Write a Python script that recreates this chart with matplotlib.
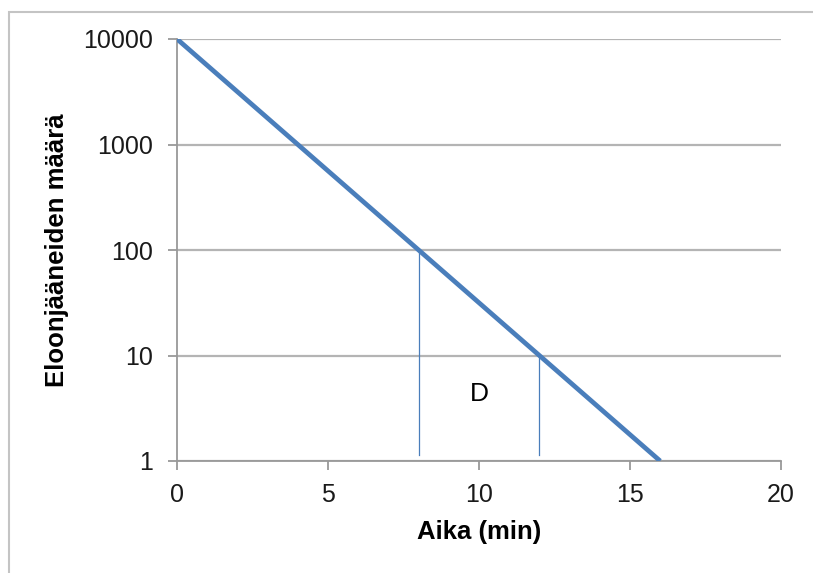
import matplotlib
matplotlib.use("Agg")
import matplotlib.pyplot as plt
from matplotlib.patches import Rectangle

plt.rcParams['font.family'] = ['Liberation Sans', 'DejaVu Sans']

# data
time_min = [0, 16]
survivors = [10000, 1]
d_lines_x = [8, 12]
d_lines_top = [100, 10]
d_lines_bottom = 1.15
d_label = "D"
d_label_pos = (10, 4.3)
x_ticks = [0, 5, 10, 15, 20]
y_ticks = [1, 10, 100, 1000, 10000]
y_tick_labels = ["1", "10", "100", "1000", "10000"]

fig = plt.figure(figsize=(8.13, 5.73), dpi=100)
fig.patches.append(Rectangle((9/813, -0.1), 1.2, 1 - 12/573 + 0.1,
                             transform=fig.transFigure, fill=False,
                             edgecolor='#c4c4c4', linewidth=1.5))
ax = fig.add_axes([177/813, 1 - 461/573, (781-177)/813, (461-39)/573])

blue = '#4a7ebb'
ax.plot(time_min, survivors, color=blue, linewidth=3.4, solid_capstyle='butt', zorder=3)
for x, top in zip(d_lines_x, d_lines_top):
    ax.plot([x, x], [d_lines_bottom, top], color=blue, linewidth=0.9, zorder=2)
ax.text(d_label_pos[0], d_label_pos[1], d_label, ha='center', va='center', fontsize=19)

ax.set_yscale('log')
ax.set_xlim(0, 20)
ax.set_ylim(1, 10000)
ax.set_xticks(x_ticks)
ax.set_xticklabels([str(v) for v in x_ticks])
ax.set_yticks(y_ticks)
ax.set_yticklabels(y_tick_labels)
ax.minorticks_off()
ax.yaxis.grid(True, color='#b4b4b4', linewidth=1.6)
ax.set_axisbelow(True)
for s in ['top', 'right']:
    ax.spines[s].set_visible(False)
for s in ['left', 'bottom']:
    ax.spines[s].set_color('#999999')
    ax.spines[s].set_linewidth(1.3)
ax.tick_params(axis='both', colors='#999999', labelcolor='#1a1a1a', labelsize=18,
               length=6.5, width=1.3, direction='out')
ax.tick_params(axis='x', pad=9)
ax.tick_params(axis='y', pad=11)
ax.set_xlabel('Aika (min)', fontsize=18.5, fontweight='bold', va='center')
ax.xaxis.set_label_coords(0.5, (461 - 532) / 422)
ax.set_ylabel('Eloonjääneiden määrä', fontsize=18.5, fontweight='bold', va='center')
ax.yaxis.set_label_coords((57 - 177) / 604, 0.5)

fig.savefig('out.png', dpi=100)
